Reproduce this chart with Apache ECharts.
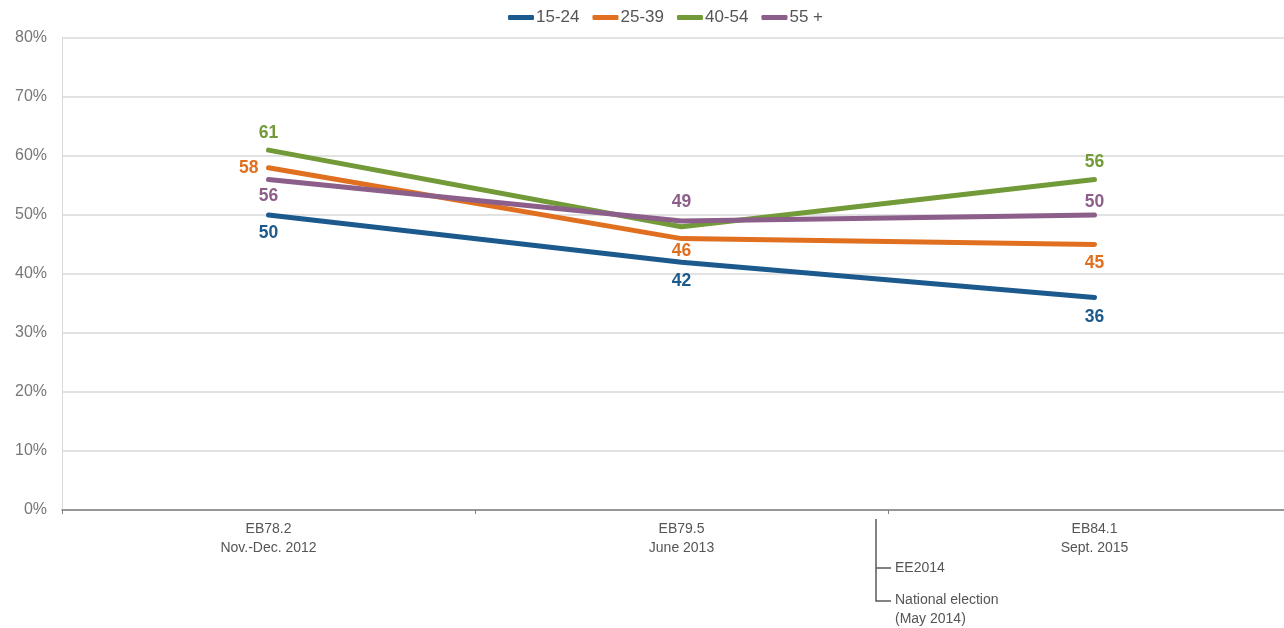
<!DOCTYPE html>
<html><head><meta charset="utf-8">
<script src="https://cdn.jsdelivr.net/npm/echarts@6/dist/echarts.min.js"></script>
<style>html,body{margin:0;padding:0;background:#fff}#c{width:1284px;height:628px}</style>
</head><body><div id="c"></div>
<script>
var categories = ['EB78.2\nNov.-Dec. 2012', 'EB79.5\nJune 2013', 'EB84.1\nSept. 2015'];
var seriesNames = ['15-24', '25-39', '40-54', '55 +'];
var v1524 = [50, 42, 36];
var v2539 = [58, 46, 45];
var v4054 = [61, 48, 56];
var v55 = [56, 49, 50];
var yTicks = [0, 10, 20, 30, 40, 50, 60, 70, 80];

var colors = ['#1C5A8E', '#E07020', '#739A39', '#8C5E8A'];
// label placement per series / point: [position, distance] or null (hidden)
var labelPlace = [
  [['bottom', 9], ['bottom', 10], ['bottom', 11]],
  [['left', 10], ['bottom', 4], ['bottom', 10]],
  [['top', 8], null, ['top', 8]],
  [['bottom', 8], ['top', 10], ['top', 4]]
];
var values = [v1524, v2539, v4054, v55];
var FF = 'Liberation Sans, Arial, sans-serif';

var series = values.map(function (vals, si) {
  return {
    name: seriesNames[si],
    type: 'line',
    data: vals.map(function (v, i) {
      var lp = labelPlace[si][i];
      return {
        value: v,
        label: lp ? { show: true, position: lp[0], distance: lp[1] } : { show: false }
      };
    }),
    symbol: 'circle',
    symbolSize: 0.1,
    showSymbol: true,
    lineStyle: { width: 5, color: colors[si], cap: 'round' },
    itemStyle: { color: colors[si] },
    label: { color: colors[si], fontSize: 17.5, fontWeight: 'bold', fontFamily: FF },
    emphasis: { disabled: true },
    animation: false,
    z: 10 - si
  };
});
series[3].z = 12;

var chart = echarts.init(document.getElementById('c'));
chart.setOption({
  animation: false,
  color: colors,
  textStyle: { fontFamily: FF },
  legend: {
    top: 4,
    left: 503,
    itemWidth: 26,
    itemHeight: 5,
    itemGap: 13,
    icon: 'roundRect',
    textStyle: { fontSize: 17, color: '#555', padding: [0, 0, 0, -3] },
    data: seriesNames.map(function (n, i) { return { name: n, itemStyle: { color: colors[i] } }; })
  },
  grid: { left: 62, width: 1239, top: 38, height: 472, containLabel: false, outerBoundsMode: 'none' },
  xAxis: {
    type: 'category',
    data: categories,
    boundaryGap: true,
    axisLine: { lineStyle: { color: '#7f7f7f', width: 1.5 } },
    axisTick: { show: true, length: 4, lineStyle: { color: '#7f7f7f' } },
    axisLabel: { fontSize: 14, color: '#555', lineHeight: 19, margin: 10 }
  },
  yAxis: {
    type: 'value',
    min: 0,
    max: 80,
    interval: 10,
    axisLine: { show: true, lineStyle: { color: '#d9d9d9' } },
    axisTick: { show: false },
    splitLine: { lineStyle: { color: '#d9d9d9', width: 1.5 } },
    axisLabel: { fontSize: 16, color: '#777', margin: 15, formatter: function (v) { return yTicks.indexOf(v) >= 0 ? v + '%' : ''; } }
  },
  graphic: [
    { type: 'polyline', shape: { points: [[876, 519], [876, 601], [891, 601]] }, style: { stroke: '#595959', lineWidth: 1.5, fill: null } },
    { type: 'line', shape: { x1: 876, y1: 568, x2: 891, y2: 568 }, style: { stroke: '#595959', lineWidth: 1.5 } },
    { type: 'text', x: 895, y: 568, style: { text: 'EE2014', fontSize: 14, fill: '#555', verticalAlign: 'middle', fontFamily: FF } },
    { type: 'text', x: 895, y: 600, style: { text: 'National election', fontSize: 14, fill: '#555', verticalAlign: 'middle', fontFamily: FF } },
    { type: 'text', x: 895, y: 619, style: { text: '(May 2014)', fontSize: 14, fill: '#555', verticalAlign: 'middle', fontFamily: FF } }
  ],
  series: series
});
</script>
</body></html>
